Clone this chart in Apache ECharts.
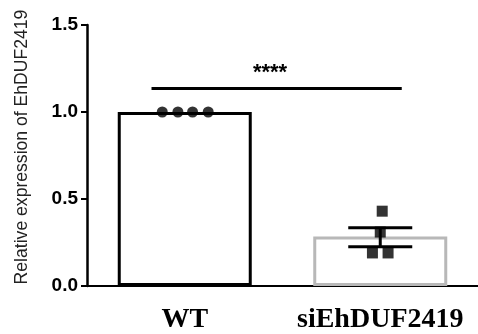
<!DOCTYPE html>
<html><head><meta charset="utf-8">
<script src="https://cdn.jsdelivr.net/npm/echarts@6/dist/echarts.min.js"></script>
<style>html,body{margin:0;padding:0;background:#fff}#c{width:478px;height:334px}</style>
</head><body><div id="c"></div>
<script>
// ---- data ----
const categories = ['WT', 'siEhDUF2419'];
const meanValues = [1.0, 0.285];
const wtPoints = [1.0, 1.0, 1.0, 1.0];
const wtJitter = [-0.115, -0.035, 0.04, 0.12];
const siPoints = [0.43, 0.31, 0.19, 0.19];
const siJitter = [0.01, 0.0, -0.04, 0.04];
const siErrLow = 0.225;
const siErrHigh = 0.335;
const yTicks = [0, 0.5, 1.0, 1.5];
const sigBar = {from: 0, to: 1, y: 1.135, label: '****'};
const yTitle = 'Relative expression of EhDUF2419';

const chart = echarts.init(document.getElementById('c'));
const wtData = wtPoints.map((v, i) => [0.5 + wtJitter[i], v]);
const siData = siPoints.map((v, i) => [1.5 + siJitter[i], v]);

chart.setOption({
  animation: false,
  grid: {left: 87, top: 25, width: 394, bottom: 46},
  graphic: [{
    type: 'text', rotation: Math.PI / 2, x: 22, y: 147,
    style: {text: yTitle, font: '17.6px "Liberation Sans", Arial', fill: '#222', align: 'center', verticalAlign: 'middle'}
  }],
  xAxis: [{
    type: 'category', data: categories,
    axisLine: {lineStyle: {color: '#000', width: 2}},
    axisTick: {alignWithLabel: true, interval: 0, length: 7, lineStyle: {color: '#000', width: 2}},
    axisLabel: {interval: 0, hideOverlap: false, fontFamily: '"Liberation Serif", "Times New Roman", serif', fontWeight: 'bold', fontSize: 28, color: '#000', margin: 20}
  }, {
    type: 'value', min: 0, max: 2, show: false
  }],
  yAxis: {
    type: 'value', min: 0, max: 1.5, interval: 0.5,
    splitLine: {show: false},
    axisLine: {show: true, lineStyle: {color: '#000', width: 2.5}},
    axisTick: {show: true, length: 6, lineStyle: {color: '#000', width: 2}},
    axisLabel: {fontFamily: '"Liberation Sans", Arial', fontWeight: 'bold', fontSize: 19, color: '#000', margin: 9,
      formatter: v => v.toFixed(1)}
  },
  series: [{
    type: 'bar', xAxisIndex: 0, barWidth: 134,
    data: meanValues.map((v, i) => ({value: v, itemStyle: i === 0 ?
      {color: '#fff', borderColor: '#000', borderWidth: 3} :
      {color: '#fff', borderColor: '#b8b8b8', borderWidth: 3}}))
  }, {
    type: 'custom', xAxisIndex: 1, z: 5,
    data: [[1.5, siErrLow, siErrHigh]],
    renderItem: (params, api) => {
      const lo = api.coord([api.value(0), api.value(1)]);
      const hi = api.coord([api.value(0), api.value(2)]);
      const half = 32;
      const s = {stroke: '#000', lineWidth: 3};
      return {type: 'group', children: [
        {type: 'line', shape: {x1: lo[0], y1: lo[1], x2: hi[0], y2: hi[1]}, style: s},
        {type: 'line', shape: {x1: lo[0] - half, y1: lo[1], x2: lo[0] + half, y2: lo[1]}, style: s},
        {type: 'line', shape: {x1: hi[0] - half, y1: hi[1], x2: hi[0] + half, y2: hi[1]}, style: s}
      ]};
    }
  }, {
    type: 'custom', xAxisIndex: 1, z: 5,
    data: [[sigBar.from, sigBar.to, sigBar.y]],
    renderItem: (params, api) => {
      const a = api.coord([0.5 + api.value(0) - 0.17, api.value(2)]);
      const b = api.coord([0.5 + api.value(1) + 0.11, api.value(2)]);
      return {type: 'group', children: [
        {type: 'line', shape: {x1: a[0], y1: a[1], x2: b[0], y2: b[1]}, style: {stroke: '#000', lineWidth: 3}},
        {type: 'text', x: 270, y: a[1] - 16,
          style: {text: sigBar.label, font: 'bold 22px "Liberation Sans", Arial', fill: '#000', align: 'center', verticalAlign: 'middle'}}
      ]};
    }
  }, {
    type: 'scatter', xAxisIndex: 1, symbol: 'circle', symbolSize: 11, z: 6,
    itemStyle: {color: '#000'}, data: wtData
  }, {
    type: 'scatter', xAxisIndex: 1, symbol: 'rect', symbolSize: 11, z: 6,
    itemStyle: {color: '#000'}, data: siData
  }]
});
</script></body></html>
